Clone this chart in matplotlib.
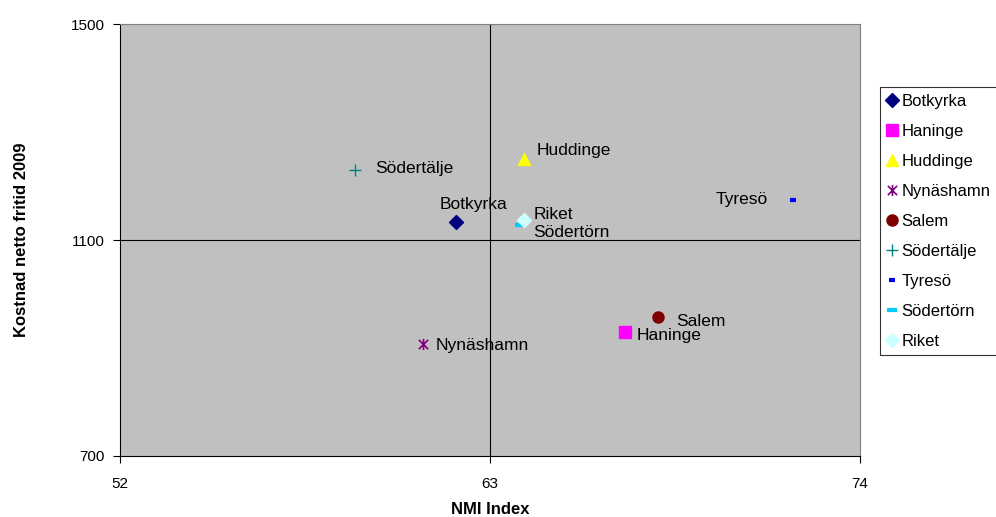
import numpy as np
import matplotlib.pyplot as plt
from matplotlib.path import Path

plt.rcParams['font.family'] = ['Liberation Sans', 'DejaVu Sans']

# data
names = ['Botkyrka', 'Haninge', 'Huddinge', 'Nynäshamn', 'Salem',
         'Södertälje', 'Tyresö', 'Södertörn', 'Riket']
nmi = [62.0, 67.0, 64.0, 61.0, 68.0, 59.0, 72.0, 63.9, 64.0]
kostnad = [1134, 930, 1250, 907, 957, 1230, 1175, 1127, 1137]

xticks = [52, 63, 74]
yticks = [700, 1100, 1500]

# excel-like star: x with a vertical stroke
star = Path([(-1, -1), (1, 1), (-1, 1), (1, -1), (0, -1.2), (0, 1.2)],
            [Path.MOVETO, Path.LINETO, Path.MOVETO, Path.LINETO,
             Path.MOVETO, Path.LINETO])
dash_short = Path([(-1, 0), (1, 0)], [Path.MOVETO, Path.LINETO])

styles = [
    dict(marker='D', color='#000080', ms=7),
    dict(marker='s', color='#FF00FF', ms=8),
    dict(marker='^', color='#FFFF00', ms=9),
    dict(marker=star, color='#800080', ms=8, mew=1.2),
    dict(marker='o', color='#800000', ms=8),
    dict(marker='+', color='#008080', ms=9, mew=1.0),
    dict(marker=dash_short, color='#0000FF', ms=4, mew=3),
    dict(marker=dash_short, color='#00CCFF', ms=7, mew=3),
    dict(marker='D', color='#CCFFFF', ms=7),
]

# label offsets in points (dx, dy, ha)
offs = [(12, 12, 'center'), (9, -3, 'left'), (9, 6, 'left'), (9, -1, 'left'),
        (13, -3, 'left'), (14, 1, 'left'), (-18, 0, 'right'), (9, -5, 'left'),
        (7, 4, 'left')]

fig = plt.figure(figsize=(9.96, 5.17), dpi=100)
ax = fig.add_axes([0.1205, 0.118, 0.743, 0.8355])
ax.set_facecolor('#C0C0C0')

ax.axvline(63, color='black', lw=0.8, zorder=1)
ax.axhline(1100, color='black', lw=0.8, zorder=1)

for i in range(len(names)):
    st = styles[i]
    ax.plot(nmi[i], kostnad[i], linestyle='none', marker=st['marker'],
            color=st['color'], ms=st['ms'], mew=st.get('mew', 1),
            label=names[i], zorder=3)
    dx, dy, ha = offs[i]
    ax.annotate(names[i], (nmi[i], kostnad[i]), xytext=(dx, dy),
                textcoords='offset points', ha=ha, va='center', fontsize=12.5)

ax.set_xlim(52, 74)
ax.set_ylim(700, 1500)
ax.set_xticks(xticks)
ax.set_yticks(yticks)
ax.tick_params(axis='x', direction='out', length=5, pad=10, labelsize=11)
ax.tick_params(axis='y', direction='out', length=5, pad=6, labelsize=11)
for s in ['top', 'right']:
    ax.spines[s].set_color('#808080')
for s in ['left', 'bottom']:
    ax.spines[s].set_color('black')

ax.set_xlabel('NMI Index', fontweight='bold', fontsize=12, labelpad=8)
ax.set_ylabel('Kostnad netto fritid 2009', fontweight='bold', fontsize=12, labelpad=30)

leg = fig.legend(loc='upper left', bbox_to_anchor=(0.8835, 0.832), fontsize=12,
                 frameon=True, fancybox=False, edgecolor='black', handlelength=0.6,
                 handletextpad=0.3, labelspacing=0.9, borderpad=0.4,
                 borderaxespad=0)
leg.get_frame().set_linewidth(0.8)

fig.savefig('out.png', dpi=100)
